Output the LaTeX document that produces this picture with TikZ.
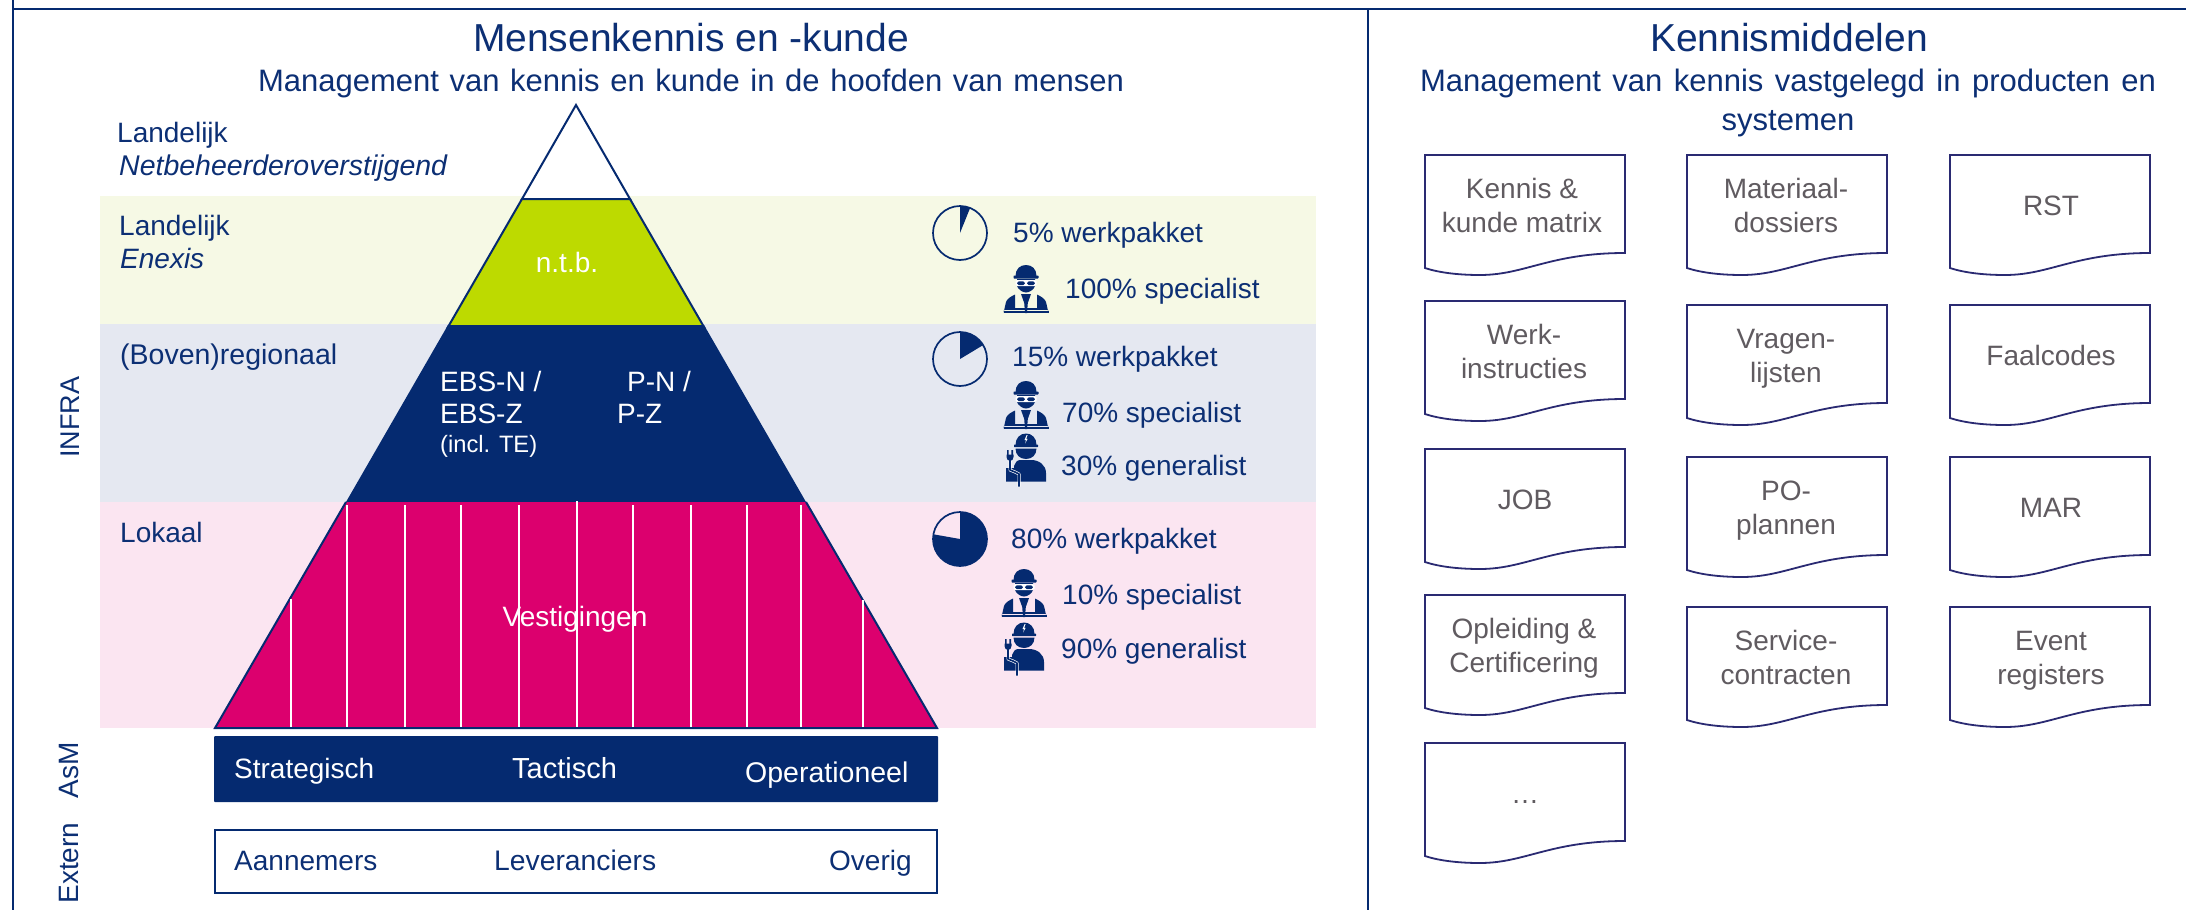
\documentclass[tikz,border=0pt]{standalone}
\usepackage{fontspec}
\setmainfont{Liberation Sans}
\definecolor{navy}{HTML}{052A70}
\definecolor{ink}{HTML}{0C2F74}
\definecolor{magenta2}{HTML}{DC006E}
\definecolor{lime2}{HTML}{BDDA00}
\definecolor{bandgreen}{HTML}{F6F9E5}
\definecolor{bandgrey}{HTML}{E5E8F1}
\definecolor{bandpink}{HTML}{FBE5F1}
\definecolor{docline}{HTML}{2A2A72}
\definecolor{doctext}{HTML}{605B60}
\tikzset{
  frameline/.style={draw=navy,line width=2pt},
  pyr/.style={draw=navy,line width=2pt,line join=miter},
  txt/.style={inner sep=0pt,text=ink,anchor=base west,font=\fontsize{28}{34}\selectfont},
  ctxt/.style={txt,anchor=base},
  wtxt/.style={txt,text=white},
  title/.style={inner sep=0pt,text=ink,anchor=base,font=\fontsize{39}{44}\selectfont},
  subtitle/.style={inner sep=0pt,text=ink,anchor=base,font=\fontsize{31}{39}\selectfont},
  rot/.style={inner sep=0pt,text=ink,rotate=90,anchor=center,font=\fontsize{28}{34}\selectfont},
  docshape/.style={draw=docline,line width=1.8pt,fill=white},
  doclabel/.style={inner sep=0pt,text=doctext,align=center,anchor=center,font=\fontsize{28}{34}\selectfont},
  piece/.style={draw=navy,line width=1.7pt},
  stripe/.style={draw=white,line width=1.5pt},
  specialist/.pic={
    % helmet
    \fill[navy] (-10.5,11) .. controls (-10.5,4) and (-6,0) .. (0,0) .. controls (6,0) and (10.5,4) .. (10.5,11) -- cycle;
    \fill[navy,rounded corners=0.6pt] (-12.5,10.5) rectangle (12.5,13.5);
    % head
    \fill[navy] (-9,14) -- (9,14) -- (9,21) .. controls (8,24) and (4,27.5) .. (0,27.5) .. controls (-4,27.5) and (-8,24) .. (-9,21) -- cycle;
    % goggles
    \fill[white,rounded corners=1.5pt] (-10.5,15) rectangle (10.5,21);
    \fill[navy,rounded corners=1.5pt] (-8.8,16.4) rectangle (-1.2,20);
    \fill[navy,rounded corners=1.5pt] (1.2,16.4) rectangle (8.8,20);
    % vest
    \fill[navy] (-22.5,48) -- (-20,37) .. controls (-19,34) and (-16,32) .. (-11,29.5) -- (-11,43) -- (-1.2,43) -- (-1.2,44.8) -- (-22,44.8) -- cycle;
    \fill[navy] (22.5,48) -- (20,37) .. controls (19,34) and (16,32) .. (11,29.5) -- (11,43) -- (1.2,43) -- (1.2,44.8) -- (22,44.8) -- cycle;
    \fill[navy] (-22.5,45.8) rectangle (22.5,48);
    \fill[navy] (-5,29) -- (5,29) -- (1.8,38) -- (1,48) -- (-1,48) -- (-1.8,38) -- cycle;
  },
  generalist/.pic={
    \fill[navy] (-10.5,12) .. controls (-10.5,5) and (-6,0.5) .. (0,0.5) .. controls (6,0.5) and (10.5,5) .. (10.5,12) -- cycle;
    \fill[navy,rounded corners=0.6pt] (-12,11.5) rectangle (12,14.2);
    \fill[white] (0.6,2) -- (-1.5,7) -- (0,7) -- (-0.8,10.5) -- (1.6,5.8) -- (0.2,5.8) -- (1.6,2) -- cycle;
    \fill[navy] (-10.5,15.5) -- (10.5,15.5) .. controls (10.5,22) and (6,26) .. (0,26) .. controls (-6,26) and (-10.5,22) .. (-10.5,15.5) -- cycle;
    \fill[navy] (20,48.5) -- (20,40) .. controls (20,32) and (13,27) .. (5,27) -- (-6,27) .. controls (-9,27) and (-11,30) .. (-12,33) -- (-12,35) -- (-20,35) -- (-20,48.5) -- cycle;
    \draw[white,line width=3pt,line join=round] (-16,26) -- (-16,37) -- (-11,39) -- (-7,41) -- (-7,53.5);
    \draw[navy,line width=1.6pt,line join=round] (-16,26) -- (-16,37) -- (-11,39) -- (-7,41) -- (-7,53.5);
    \fill[navy] (-19,17) rectangle (-17.4,22) (-14.6,17) rectangle (-13,22);
    \fill[navy] (-19.5,21.5) -- (-12.5,21.5) -- (-12.5,24) .. controls (-12.5,26) and (-14,28) .. (-16,28) .. controls (-18,28) and (-19.5,26) .. (-19.5,24) -- cycle;
  }
}
\newcommand{\docbox}[5][0]{%
  \begin{scope}[shift={(#3,#4)}]
    \draw[docshape] (0,0) -- (200,0) -- (200,98) .. controls (125,98) and (100,120) .. (55,120) .. controls (35,120) and (15,118) .. (0,113) -- cycle;
    \node[doclabel] (#2) at (100+#1,53.5) {#5};
  \end{scope}}
\begin{document}
\begin{tikzpicture}[x=1pt,y=-1pt]
\useasboundingbox (0,0) rectangle (2186,910);
\fill[white] (0,0) rectangle (2186,910);
% frame
\coordinate (ftl) at (13,0); \coordinate (fbl) at (13,910);
\coordinate (hl) at (13,9); \coordinate (hr) at (2186,9);
\coordinate (dt) at (1368,9); \coordinate (db) at (1368,910);
\draw[frameline] (ftl) -- (fbl) (hl) -- (hr) (dt) -- (db);
% bands
\fill[bandgreen] (100,196) rectangle (1316,324);
\fill[bandgrey] (100,324) rectangle (1316,502);
\fill[bandpink] (100,502) rectangle (1316,728);
% titles
\node[title] (t1) at (691,51) {Mensenkennis en -kunde};
\node[subtitle] (s1) at (691,91) {\spaceskip=10.6pt Management van kennis en kunde in de hoofden van mensen};
\node[title] (t2) at (1789,51) {Kennismiddelen};
\node[subtitle] (s2) at (1788,91) {\spaceskip=11.5pt Management van kennis vastgelegd in producten en};
\node[subtitle] (s3) at (1788,130) {systemen};
% pyramid
\path[pyr,fill=white] (576,105) -- (630,199) -- (522,199) -- cycle;
\path[pyr,fill=lime2] (522,199) -- (630,199) -- (704,327) -- (448,327) -- cycle;
\fill[navy] (448,325) -- (704,325) -- (806,502) -- (346,502) -- cycle;
\fill[magenta2] (346,502) -- (806,502) -- (937,728) -- (215,728) -- cycle;
\draw[pyr] (346,502) -- (215,728) -- (937,728) -- (806,502);
\draw[stripe] (291,599) -- (291,727) (863,600) -- (863,727);
\foreach \xx in {347,405,461,519,633,691,747,801} {\draw[stripe] (\xx,505) -- (\xx,727);}
\draw[stripe] (577,501) -- (577,727);
% left labels
\node[txt] (l1) at (117,142) {Landelijk};
\node[txt,font=\fontsize{28.5}{34}\selectfont\itshape] (l2) at (119,175) {Netbeheerderoverstijgend};
\node[txt] (l3) at (119,235) {Landelijk};
\node[txt,font=\fontsize{28}{34}\selectfont\itshape] (l4) at (120,268) {Enexis};
\node[txt,font=\fontsize{28.5}{34}\selectfont] (l5) at (120,364) {(Boven)regionaal};
\node[txt] (l6) at (120,542) {Lokaal};
\node[rot,font=\fontsize{27}{34}\selectfont] (r1) at (70,417) {INFRA};
\node[rot] (r2) at (69,770) {AsM};
\node[rot] (r3) at (69,863) {Extern};
% pyramid labels
\node[wtxt,anchor=base] (ntb) at (567,272) {n.t.b.};
\node[wtxt] (e1) at (440,391) {EBS-N /};
\node[wtxt] (e2) at (440,423) {EBS-Z};
\node[wtxt,font=\fontsize{23.7}{28}\selectfont] (e3) at (440,452) {(incl. TE)};
\node[wtxt] (p1) at (627,391) {P-N /};
\node[wtxt] (p2) at (617,423) {P-Z};
\node[wtxt,anchor=base] (ve) at (575,626) {Vestigingen};
% bars
\fill[navy,rounded corners=1pt] (214,736) rectangle (938,802);
\node[wtxt] (b1) at (234,778) {Strategisch};
\node[wtxt,font=\fontsize{29}{34}\selectfont] (b2) at (512,778) {Tactisch};
\node[wtxt,font=\fontsize{28.5}{34}\selectfont] (b3) at (745,782) {Operationeel};
\draw[frameline] (215,829.5) rectangle (937,893);
\node[txt] (c1) at (234,870) {Aannemers};
\node[txt,font=\fontsize{28.3}{34}\selectfont] (c2) at (494,870) {Leveranciers};
\node[txt] (c3) at (829,870) {Overig};
% pies
\draw[piece] (960,233) circle[radius=27];
\fill[navy] (960,233) -- ++(-90:27) arc[start angle=-90,end angle=-68,radius=27] -- cycle;
\draw[piece] (960,359) circle[radius=27];
\fill[navy] (960,359) -- ++(-90:27) arc[start angle=-90,end angle=-31,radius=27] -- cycle;
\draw[piece] (960,539) circle[radius=27];
\fill[navy] (960,539) -- ++(-90:27) arc[start angle=-90,end angle=190,radius=27] -- cycle;
% icons
\pic (w1) at (1026,265) {specialist};
\pic (w2) at (1026,381) {specialist};
\pic (w3) at (1024,569) {specialist};
\pic (w4) at (1026,433) {generalist};
\pic (w5) at (1024,622) {generalist};
% percentages
\node[txt] (q1) at (1013,242) {5\% werkpakket};
\node[txt] (q2) at (1065,298) {100\% specialist};
\node[txt] (q3) at (1012,366) {15\% werkpakket};
\node[txt] (q4) at (1062,422) {70\% specialist};
\node[txt] (q5) at (1061,475) {30\% generalist};
\node[txt] (q6) at (1011,548) {80\% werkpakket};
\node[txt] (q7) at (1062,604) {10\% specialist};
\node[txt] (q8) at (1061,658) {90\% generalist};
% documents
\docbox[-3]{d1}{1425}{155}{\strut Kennis \&\\\strut kunde matrix}
\docbox[-1]{d2}{1425}{301}{\strut Werk-\\\strut instructies}
\docbox[0]{d3}{1425}{449}{\strut JOB}
\docbox[-1]{d4}{1425}{595}{\strut Opleiding \&\\\strut Certificering}
\docbox[0]{d5}{1425}{743}{\strut …}
\docbox[-1]{d6}{1687}{155}{\strut Materiaal-\\\strut dossiers}
\docbox[-1]{d7}{1687}{305}{\strut Vragen-\\\strut lijsten}
\docbox[-1]{d8}{1687}{457}{\strut PO-\\\strut plannen}
\docbox[-1]{d9}{1687}{607}{\strut Service-\\\strut contracten}
\docbox[1]{d10}{1950}{155}{\strut RST}
\docbox[1]{d11}{1950}{305}{\strut Faalcodes}
\docbox[1]{d12}{1950}{457}{\strut MAR}
\docbox[1]{d13}{1950}{607}{\strut Event\\\strut registers}
\end{tikzpicture}
\end{document}
